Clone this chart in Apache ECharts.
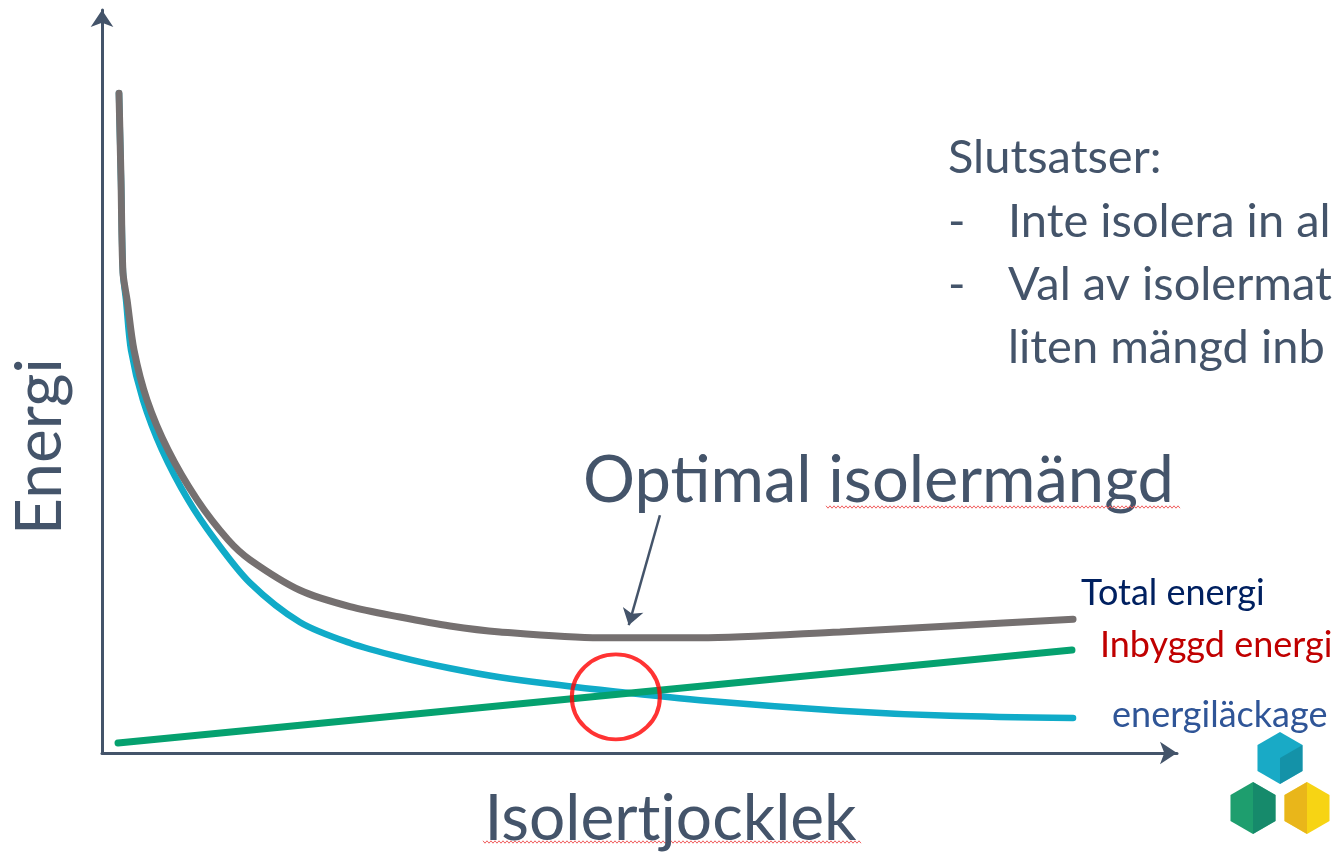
<!DOCTYPE html>
<html>
<head>
<meta charset="utf-8">
<script src="https://cdn.jsdelivr.net/npm/echarts@6/dist/echarts.min.js"></script>
<style>
  html, body { margin: 0; padding: 0; background: #fff; }
  #main { width: 1339px; height: 855px; }
</style>
</head>
<body>
<div id="main"></div>
<script>
// curves (axis units 0..100, no ticks shown)
var totalX = [1.58, 1.77, 1.95, 2.33, 2.98, 4.19, 6.14, 8.84, 11.72, 13.77, 18.42, 23.07, 27.72, 32.37, 37.02, 46.33, 55.63, 68.65, 78.88, 90.33];
var totalY = [88.8, 77.1, 64.7, 61.0, 54.2, 47.5, 40.8, 34.1, 28.7, 26.0, 21.9, 19.7, 18.3, 17.1, 16.3, 15.5, 15.5, 16.3, 17.1, 18.0];
var leakX = [1.58, 1.77, 1.95, 2.23, 2.70, 3.81, 5.58, 8.00, 10.51, 13.77, 18.42, 23.07, 27.72, 32.37, 37.02, 46.33, 55.63, 68.65, 78.88, 90.33];
var leakY = [88.8, 77.1, 64.7, 61.0, 54.2, 47.5, 40.8, 34.1, 28.7, 22.9, 17.6, 14.8, 12.9, 11.4, 10.2, 8.5, 7.1, 5.7, 5.0, 4.7];
var builtX = [1.49, 90.23];
var builtY = [1.35, 13.86];
var optimum = [47.8, 7.55];
var arrowFrom = [51.9, 32.0];
var arrowTo = [49.0, 17.2];

var names = ['Total energi', 'Inbyggd energi', 'energiläckage'];
var conclusions = ['Slutsatser:', 'Inte isolera in al', 'Val av isolermat', 'liten mängd inb'];

function pairs(xs, ys) {
    return xs.map(function (x, i) { return [x, ys[i]]; });
}

var textColor = '#44546A';
var font = 'Lato';

var chart = echarts.init(document.getElementById('main'));

var graphics = [
    { type: 'text', left: 948, top: 134, style: { text: conclusions[0], fill: textColor, font: '47px ' + font } },
    { type: 'text', left: 948, top: 198, style: { text: '-', fill: textColor, font: '47px ' + font } },
    { type: 'text', left: 1008, top: 198, style: { text: conclusions[1], fill: textColor, font: '47px ' + font } },
    { type: 'text', left: 948, top: 261, style: { text: '-', fill: textColor, font: '47px ' + font } },
    { type: 'text', left: 1008, top: 261, style: { text: conclusions[2], fill: textColor, font: '47px ' + font } },
    { type: 'text', left: 1008, top: 324, style: { text: conclusions[3], fill: textColor, font: '47px ' + font } },
    { type: 'text', left: 583, top: 449, style: { text: 'Optimal isolermängd', fill: textColor, font: '65px ' + font } }
];

// spell-check squiggles under two words
function squiggle(x0, x1, y) {
    var pts = [];
    for (var x = x0, k = 0; x <= x1; x += 2, k++) pts.push([x, y + (k % 2 ? 1.2 : -1.2)]);
    return { type: 'polyline', shape: { points: pts }, style: { stroke: '#F06060', lineWidth: 1, fill: null } };
}
graphics.push(squiggle(826, 1180, 507));
graphics.push(squiggle(483, 862, 842));

// logo: three hexagons
function hex(cx, cy, r) {
    var pts = [];
    for (var k = 0; k < 6; k++) {
        var a = (k * 60 - 90) * Math.PI / 180;
        pts.push([cx + r * Math.cos(a), cy + r * Math.sin(a)]);
    }
    return pts;
}
var logo = [
    { c: [1280, 758], base: '#19AAC6', dark: '#13879B', side: [6, 1, 2, 3] },
    { c: [1253, 808], base: '#1E9E6E', dark: '#12826A', side: [0, 1, 2, 3, 6] },
    { c: [1307, 808], base: '#F7D414', dark: '#E2AA1C', side: [0, 6, 3, 4, 5] }
];
logo.forEach(function (h) {
    var pts = hex(h.c[0], h.c[1], 26);
    var all = pts.concat([[h.c[0], h.c[1]]]);
    graphics.push({ type: 'polygon', shape: { points: pts }, style: { fill: h.base } });
    graphics.push({ type: 'polygon', shape: { points: h.side.map(function (i) { return all[i]; }) }, style: { fill: h.dark, opacity: 0.7 } });
});

chart.setOption({
    animation: false,
    backgroundColor: '#fff',
    grid: { left: 102, right: 162, top: 10, bottom: 102, outerBoundsMode: 'none', containLabel: false },
    xAxis: {
        type: 'value',
        min: 0,
        max: 100,
        name: 'Isolertjocklek',
        nameLocation: 'middle',
        nameGap: 34,
        nameTextStyle: { color: textColor, fontSize: 64, fontFamily: font, padding: [0, 0, 0, 62] },
        axisLine: { show: true, symbol: ['none', 'arrow'], symbolSize: [17, 17], lineStyle: { color: textColor, width: 3 } },
        axisTick: { show: false },
        axisLabel: { show: false },
        splitLine: { show: false }
    },
    yAxis: {
        type: 'value',
        min: 0,
        max: 100,
        name: 'Energi',
        nameLocation: 'middle',
        nameRotate: 90,
        nameGap: 30,
        nameTextStyle: { color: textColor, fontSize: 64, fontFamily: font, padding: [0, 130, 0, 0] },
        axisLine: { show: true, symbol: ['none', 'arrow'], symbolSize: [17, 17], lineStyle: { color: textColor, width: 3 } },
        axisTick: { show: false },
        axisLabel: { show: false },
        splitLine: { show: false }
    },
    graphic: graphics,
    series: [
        {
            name: names[2],
            type: 'line',
            data: pairs(leakX, leakY),
            smooth: 0.3,
            showSymbol: false,
            lineStyle: { color: '#10ABC8', width: 6.5, cap: 'round' },
            endLabel: { show: true, formatter: '{a}', color: '#2F5597', fontSize: 36, fontFamily: font, offset: [31, -3] }
        },
        {
            name: names[1],
            type: 'line',
            data: pairs(builtX, builtY),
            showSymbol: false,
            lineStyle: { color: '#05A16F', width: 7, cap: 'round' },
            endLabel: { show: true, formatter: '{a}', color: '#C00000', fontSize: 36, fontFamily: font, offset: [20, -5] }
        },
        {
            name: names[0],
            type: 'line',
            data: pairs(totalX, totalY),
            smooth: 0.3,
            showSymbol: false,
            lineStyle: { color: '#757070', width: 7, cap: 'round' },
            endLabel: { show: true, formatter: '{a}', color: '#002060', fontSize: 36, fontFamily: font, offset: [0, -26] }
        },
        {
            type: 'scatter',
            data: [optimum],
            symbol: 'circle',
            symbolSize: [88, 85],
            itemStyle: { color: 'transparent', borderColor: '#FF0000', borderWidth: 4 },
            z: 5
        },
        {
            type: 'lines',
            coordinateSystem: 'cartesian2d',
            data: [{ coords: [arrowFrom, arrowTo] }],
            symbol: ['none', 'arrow'],
            symbolSize: 16,
            lineStyle: { color: textColor, width: 2.5, opacity: 1 },
            z: 5
        }
    ]
});
</script>
</body>
</html>
